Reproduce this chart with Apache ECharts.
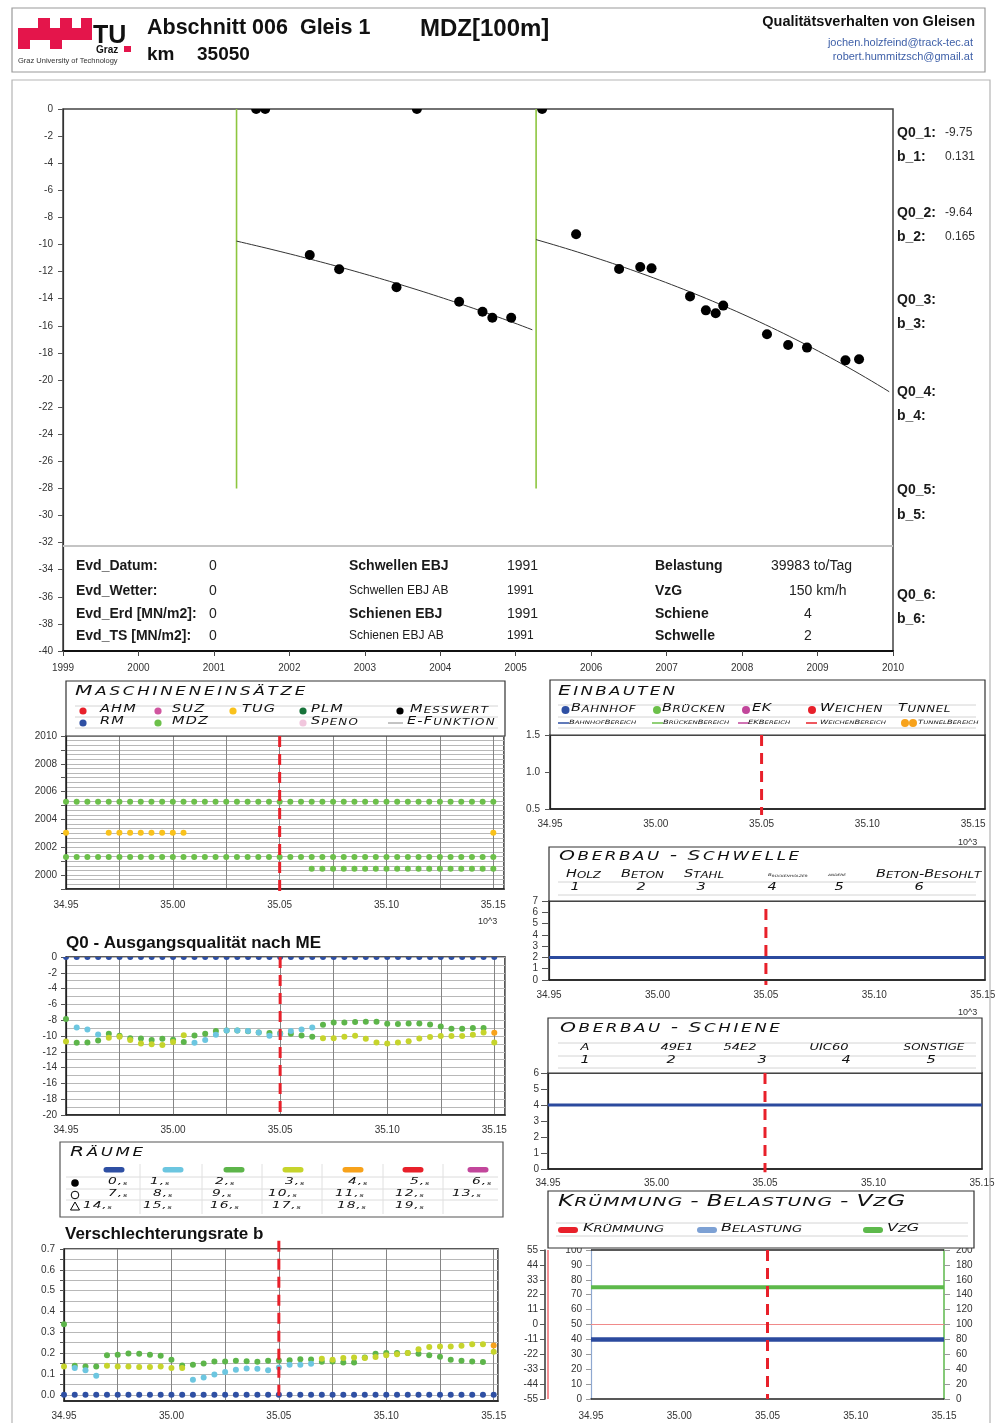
<!DOCTYPE html>
<html>
<head>
<meta charset="utf-8">
<title>Abschnitt 006 Gleis 1 – MDZ[100m]</title>
<script src="https://cdn.jsdelivr.net/npm/echarts@6/dist/echarts.min.js"></script>
<style>
  html, body { margin: 0; padding: 0; background: #fff; }
  #c { width: 995px; height: 1423px; }
</style>
</head>
<body>
<div id="c"></div>
<script>
// ---------------------------------------------------------------------------
// Data
// ---------------------------------------------------------------------------

// Track position (km x 10^3), 5 m spacing
const KM = [34.950, 34.955, 34.960, 34.965, 34.970, 34.975, 34.980, 34.985, 34.990, 34.995,
            35.000, 35.005, 35.010, 35.015, 35.020, 35.025, 35.030, 35.035, 35.040, 35.045,
            35.050, 35.055, 35.060, 35.065, 35.070, 35.075, 35.080, 35.085, 35.090, 35.095,
            35.100, 35.105, 35.110, 35.115, 35.120, 35.125, 35.130, 35.135, 35.140, 35.145,
            35.150];

// Quality history at km 35050: measured values [year, quality]
const MEAS = [[2001.56, 0], [2001.68, 0], [2003.69, 0], [2005.35, 0],
              [2002.27, -10.77], [2002.66, -11.83], [2003.42, -13.16], [2004.25, -14.22],
              [2004.56, -14.96], [2004.69, -15.40], [2004.94, -15.40],
              [2005.80, -9.25], [2006.37, -11.81], [2006.65, -11.66], [2006.80, -11.76],
              [2007.31, -13.83], [2007.52, -14.86], [2007.65, -15.08], [2007.75, -14.51],
              [2008.33, -16.63], [2008.61, -17.42], [2008.86, -17.61], [2009.37, -18.55],
              [2009.55, -18.47]];

// MDZ tamping dates at km 35050 and the fitted e-function per interval
const MDZ_DATES = [2001.30, 2005.27];
const FIT_END = [2005.22, 2009.95];
const Q0_VALUES = [-9.75, -9.64, null, null, null, null];
const B_VALUES = [0.131, 0.165, null, null, null, null];

// Info table
const EVD_LABELS = ['Evd_Datum:', 'Evd_Wetter:', 'Evd_Erd [MN/m2]:', 'Evd_TS [MN/m2]:'];
const EVD_VALUES = [0, 0, 0, 0];
const EBJ_LABELS = ['Schwellen EBJ', 'Schwellen EBJ AB', 'Schienen EBJ', 'Schienen EBJ AB'];
const EBJ_VALUES = [1991, 1991, 1991, 1991];
const BELASTUNG = 39983;   // to/Tag
const VZG = 150;           // km/h
const SCHIENE = 4;
const SCHWELLE = 2;
const KRUEMMUNG = 0;

// Machine operations (year of operation) per position
const ME_MDZ_A_DATE = 2005.27;
const ME_MDZ_A_KM = KM.slice();
const ME_MDZ_B_DATE = 2001.30;
const ME_MDZ_B_KM = KM.slice();
const ME_MDZ_C_DATE = 2000.46;
const ME_MDZ_C_KM = KM.filter(k => k > 35.0645);
const ME_TUG_DATE = 2003.04;
const ME_TUG_KM = [34.950, 34.970, 34.975, 34.980, 34.985, 34.990, 34.995, 35.000, 35.005, 35.150];

// Q0 (initial quality after machine operation) per interval ("Raum")
const Q0_R0 = KM.map(() => 0);
const Q0_R1 = [null, -8.91, -9.17, -9.80, null, null, null, null, null, null,
               null, null, -10.86, -10.52, -9.84, -9.29, -9.29, -9.38, -9.55, -9.97,
               -9.75, -9.38, -9.17, -8.91, null, null, null, null, null, null,
               null, null, null, null, null, null, null, null, null, null, null];
const Q0_R2 = [-7.86, -10.86, -10.82, -10.56, -9.72, -9.97, -10.27, -10.31, -10.52, -10.35,
               -10.48, -10.77, -9.93, -9.72, -9.38, -9.30, -9.30, -9.40, -9.55, -9.63,
               -9.64, -9.72, -9.93, -10.10, -8.58, -8.28, -8.28, -8.24, -8.20, -8.20,
               -8.45, -8.49, -8.41, -8.41, -8.53, -8.79, -9.08, -9.08, -9.00, -9.00, null];
const Q0_R3 = [-10.69, null, null, null, -10.22, -10.10, -10.52, -10.94, -11.03, -11.15,
               -10.77, -9.89, null, null, null, null, null, null, null, null,
               null, null, null, null, -10.27, -10.27, -10.10, -9.97, -10.35, -10.82,
               -10.94, -10.82, -10.65, -10.31, -10.14, -10.01, -10.01, -10.01, -9.84, -9.55, -10.82];
const Q0_R4 = [null, null, null, null, null, null, null, null, null, null,
               null, null, null, null, null, null, null, null, null, null,
               null, null, null, null, null, null, null, null, null, null,
               null, null, null, null, null, null, null, null, null, null, -9.59];

// Deterioration rate b per interval
const B_R0 = KM.map(() => 0);
const B_R1 = [null, 0.128, 0.118, 0.091, null, null, null, null, null, null,
              null, null, 0.072, 0.083, 0.097, 0.109, 0.120, 0.126, 0.125, 0.118,
              0.131, 0.144, 0.144, 0.149, null, null, null, null, null, null,
              null, null, null, null, null, null, null, null, null, null, null];
const B_R2 = [0.339, 0.139, 0.136, 0.136, 0.190, 0.192, 0.198, 0.197, 0.192, 0.187,
              0.168, 0.141, 0.144, 0.150, 0.160, 0.160, 0.163, 0.161, 0.158, 0.163,
              0.165, 0.166, 0.171, 0.169, 0.158, 0.160, 0.155, 0.155, 0.179, 0.197,
              0.200, 0.200, 0.201, 0.197, 0.190, 0.182, 0.168, 0.163, 0.160, 0.157, null];
const B_R3 = [0.136, null, null, null, 0.139, 0.136, 0.136, 0.133, 0.133, 0.136,
              0.129, 0.129, null, null, null, null, null, null, null, null,
              null, null, null, null, 0.173, 0.168, 0.176, 0.179, 0.176, 0.181,
              0.190, 0.195, 0.200, 0.219, 0.229, 0.232, 0.232, 0.235, 0.243, 0.243, 0.206];
const B_R4 = [null, null, null, null, null, null, null, null, null, null,
              null, null, null, null, null, null, null, null, null, null,
              null, null, null, null, null, null, null, null, null, null,
              null, null, null, null, null, null, null, null, null, null, 0.237];

// Tick labels
const B_GRID = [0, 0.05, 0.1, 0.15, 0.2, 0.25, 0.3, 0.35, 0.4, 0.45, 0.5, 0.55, 0.6, 0.65, 0.7];
const B_TICKS = [0, 0.1, 0.2, 0.3, 0.4, 0.5, 0.6, 0.7];

const CURRENT_KM = 35.05;

// ---------------------------------------------------------------------------
// Styling
// ---------------------------------------------------------------------------
const SANS = "'Liberation Sans', Arial, Helvetica, sans-serif";
const DEJA = "'DejaVu Sans', Verdana, sans-serif";
const RAUM_COLORS = ['#2E4FA3', '#6CC6E0', '#5DB54A', '#C6D42C', '#F7A21B', '#E8202A', '#C2469B'];
const RED = '#E8202A';
const GRID_V = '#858585';
const GRID_H = '#b8b8b8';
// lower half of a disc: used for marks sitting on the upper plot frame
const HALF_DISC = 'path://M0,0 A10,10 0 0 0 20,0 Z';
const SX = 1.45;   // horizontal stretch of the extended italic caption lettering

const G = [];   // graphic elements (frames, titles, legends, texts)

function T(text, x, y, o) {
  o = o || {};
  G.push({
    type: 'text', x: x, y: y, z: 30, silent: true,
    style: {
      text: String(text), fill: o.color || '#1a1a1a',
      fontSize: o.size || 12, fontFamily: o.family || SANS,
      fontWeight: o.weight || 'normal', fontStyle: o.fstyle || 'normal',
      align: o.align || 'left', verticalAlign: 'middle',
      textAlign: o.align || 'left', textVerticalAlign: 'middle'
    }
  });
}

// small-capital style: capitals large, lowercase letters as smaller capitals
function capsRich(str, allSmall) {
  let out = '';
  for (const ch of str) {
    if (ch === ' ') { out += '{s| }'; continue; }
    const up = ch.toUpperCase();
    const small = allSmall || ch !== up;
    out += (small ? '{s|' : '{u|') + up + '}';
  }
  return out;
}

function C(str, x, y, big, small, gap, o) {
  o = o || {};
  const color = o.color || '#111';
  const base = { fontFamily: DEJA, fontStyle: 'italic', fontWeight: o.weight || 'normal', fill: color, verticalAlign: 'bottom' };
  const tiny = o.tiny || small * 0.6;
  const rich = {
    u: Object.assign({ fontSize: big, lineHeight: big * 0.7, padding: [0, gap, 0, 0] }, base),
    s: Object.assign({ fontSize: small, lineHeight: small * 0.7, padding: [0, gap, 0, 0] }, base),
    t: Object.assign({ fontSize: tiny, lineHeight: tiny * 0.7, padding: [0, gap, 0, 0] }, base)
  };
  G.push({
    type: 'text', x: x, y: y, scaleX: o.sx || SX, z: 30, silent: true,
    style: {
      text: o.raw ? str : capsRich(str, o.allSmall), rich: rich, fill: color,
      fontSize: big, fontFamily: DEJA, fontStyle: 'italic',
      align: o.align || 'left', verticalAlign: 'middle',
      textAlign: o.align || 'left', textVerticalAlign: 'middle'
    }
  });
}

function R(x, y, w, h, o) {
  o = o || {};
  G.push({ type: 'rect', z: o.z || 1, silent: true, shape: { x: x, y: y, width: w, height: h, r: o.r || 0 },
           style: { fill: o.fill || 'none', stroke: o.stroke || null, lineWidth: o.lw || 1 } });
}
function L(x1, y1, x2, y2, color, lw, z) {
  G.push({ type: 'line', z: z || 2, silent: true, shape: { x1: x1, y1: y1, x2: x2, y2: y2 },
           style: { stroke: color, lineWidth: lw || 1 } });
}
function DOT(cx, cy, r, color) {
  G.push({ type: 'circle', z: 30, silent: true, shape: { cx: cx, cy: cy, r: r }, style: { fill: color } });
}

// ---------------------------------------------------------------------------
// Header
// ---------------------------------------------------------------------------
R(12, 8, 973, 64, { stroke: '#9a9a9a', lw: 1.2 });
// TU Graz logo
const LOGO_RED = '#E4154B';
R(18, 28, 74, 12, { fill: LOGO_RED });
R(38, 18, 12, 10, { fill: LOGO_RED });
R(60, 18, 12, 10, { fill: LOGO_RED });
R(81, 18, 11, 10, { fill: LOGO_RED });
R(18, 40, 12, 9, { fill: LOGO_RED });
R(50, 40, 12, 9, { fill: LOGO_RED });
T('TU', 93, 36, { size: 25, weight: 'bold', color: '#111' });
T('Graz', 96, 50, { size: 10, weight: 'bold', color: '#111' });
R(124, 46, 7, 6, { fill: LOGO_RED });
T('Graz University of Technology', 18, 61, { size: 7.5, color: '#333' });

T('Abschnitt 006  Gleis 1', 147, 28, { size: 21.5, weight: 'bold', color: '#111' });
T('MDZ[100m]', 420, 29, { size: 24, weight: 'bold', color: '#111' });
T('km', 147, 55, { size: 19, weight: 'bold', color: '#111' });
T('35050', 197, 55, { size: 19, weight: 'bold', color: '#111' });
T('Qualitätsverhalten von Gleisen', 975, 22, { size: 14.5, weight: 'bold', align: 'right', color: '#111' });
T('jochen.holzfeind@track-tec.at', 973, 43, { size: 11, align: 'right', color: '#3d5fa8' });
T('robert.hummitzsch@gmail.at', 973, 57, { size: 11, align: 'right', color: '#3d5fa8' });

// page frame
R(12, 80, 978, 1360, { stroke: '#b5b5b5', lw: 1.2 });

// ---------------------------------------------------------------------------
// Main chart texts
// ---------------------------------------------------------------------------
const PARAM_ROWS = [[133, 157], [213, 237], [300, 324], [392, 416], [490, 515], [595, 619]];
PARAM_ROWS.forEach((r, i) => {
  T('Q0_' + (i + 1) + ':', 897, r[0], { size: 14, weight: 'bold' });
  T('b_' + (i + 1) + ':', 897, r[1], { size: 14, weight: 'bold' });
  if (Q0_VALUES[i] !== null) T(Q0_VALUES[i].toFixed(2), 945, r[0], { size: 12, color: '#333' });
  if (B_VALUES[i] !== null) T(B_VALUES[i].toFixed(3), 945, r[1], { size: 12, color: '#333' });
});

L(63, 546, 893, 546, '#c4c4c4', 2, 3);
const TABLE_Y = [566, 591, 614, 636];
TABLE_Y.forEach((y, i) => {
  T(EVD_LABELS[i], 76, y, { size: 14, weight: 'bold' });
  T(EVD_VALUES[i], 209, y, { size: 14, color: '#222' });
  const ab = i % 2 === 1;
  T(EBJ_LABELS[i], 349, y, { size: ab ? 12 : 14, weight: ab ? 'normal' : 'bold' });
  T(EBJ_VALUES[i], 507, y, { size: ab ? 12 : 14, color: '#222' });
});
T('Belastung', 655, 566, { size: 14, weight: 'bold' });
T(BELASTUNG + ' to/Tag', 771, 566, { size: 14, color: '#222' });
T('VzG', 655, 591, { size: 14, weight: 'bold' });
T(VZG + ' km/h', 789, 591, { size: 14, color: '#222' });
T('Schiene', 655, 614, { size: 14, weight: 'bold' });
T(SCHIENE, 808, 614, { size: 14, align: 'center', color: '#222' });
T('Schwelle', 655, 636, { size: 14, weight: 'bold' });
T(SCHWELLE, 808, 636, { size: 14, align: 'center', color: '#222' });

// ---------------------------------------------------------------------------
// Maschineneinsätze legend
// ---------------------------------------------------------------------------
R(66, 681, 439, 55, { stroke: '#333', lw: 1.2, fill: '#fff' });
[706, 717, 728].forEach(y => L(75, y, 498, y, '#d4d4d4', 1));
C('Maschineneinsätze', 75, 693, 14, 11.5, 1.9);
const ME_LEG = [
  ['AHM', 83, 711, '#E8202A', 100], ['SUZ', 158, 711, '#D0559F', 172], ['TUG', 233, 711, '#F9C21C', 242],
  ['PLM', 303, 711, '#17733A', 311], ['Messwert', 400, 711, '#000', 410],
  ['RM', 83, 723, '#2E4FA3', 100], ['MDZ', 158, 723, '#6CC04A', 172], ['Speno', 303, 723, '#F1C6DD', 311]
];
ME_LEG.forEach(e => { DOT(e[1], e[2], 3.6, e[3]); C(e[0], e[4], e[2], 10, 8.2, 0.8); });
L(388, 723, 403, 723, '#888', 1, 30);
C('E-Funktion', 407, 723, 10, 8.2, 0.8);
T('10^3', 478, 922, { size: 9, color: '#333' });

// Q0 / b panel titles
T('Q0 - Ausgangsqualität nach ME', 66, 943, { size: 17, weight: 'bold', color: '#111' });
T('Verschlechterungsrate b', 65, 1234, { size: 17, weight: 'bold', color: '#111' });

// ---------------------------------------------------------------------------
// Räume legend
// ---------------------------------------------------------------------------
R(60, 1142, 443, 75, { stroke: '#555', lw: 1.2, fill: '#fff' });
C('Räume', 70, 1154, 14, 11.5, 1.8);
[1177, 1189, 1200].forEach(y => L(66, y, 498, y, '#dcdcdc', 1));
[140, 202, 262, 322, 383, 443].forEach(x => L(x, 1164, x, 1214, '#e0e0e0', 1));
const PILL_X = [114, 173, 234, 293, 353, 413, 478];
PILL_X.forEach((x, i) => R(x - 10.5, 1167, 21, 5.5, { fill: RAUM_COLORS[i], r: 2.75, z: 5 }));
DOT(75, 1183, 3.8, '#000');
G.push({ type: 'circle', z: 30, silent: true, shape: { cx: 75, cy: 1195, r: 3.8 }, style: { fill: 'none', stroke: '#000', lineWidth: 1 } });
G.push({ type: 'polygon', z: 30, silent: true, shape: { points: [[75, 1202], [70.5, 1210], [79.5, 1210]] }, style: { fill: 'none', stroke: '#000', lineWidth: 1 } });
const RAUM_LABEL_POS = [
  [108, 1183], [150, 1183], [215, 1183], [285, 1183], [348, 1183], [410, 1183], [472, 1183],
  [108, 1195], [153, 1195], [212, 1195], [268, 1195], [335, 1195], [395, 1195], [452, 1195],
  [83, 1207], [143, 1207], [210, 1207], [272, 1207], [337, 1207], [395, 1207]
];
RAUM_LABEL_POS.forEach((p, n) => {
  const digits = String(n).split('').map(d => '{u|' + d + '}').join('');
  C(digits + '{u|,}{t|s}', p[0], p[1], 9.5, 7.5, 0.6, { raw: true, tiny: 5.5 });
});

// ---------------------------------------------------------------------------
// Right column legends
// ---------------------------------------------------------------------------
// Einbauten
R(550, 680, 435, 55, { stroke: '#333', lw: 1.2, fill: '#fff' });
[705, 717, 728].forEach(y => L(558, y, 976, y, '#d4d4d4', 1));
C('Einbauten', 558, 693, 14, 11.5, 1.6);
[['Bahnhof', 565.5, '#2E4FA3', 571], ['Brücken', 657, '#6CC04A', 662], ['EK', 746, '#C2469B', 752], ['Weichen', 812, '#E8202A', 820]]
  .forEach(e => { DOT(e[1], 710, 4, e[2]); C(e[0], e[3], 710, 10, 8.2, 0.4); });
C('Tunnel', 898, 710, 10, 8.2, 0.4);
[['BahnhofBereich', 558, 569, '#2E4FA3'], ['BrückenBereich', 652, 663, '#6CC04A'], ['EKBereich', 738, 748, '#C2469B'], ['WeichenBereich', 806, 820, '#E8202A']]
  .forEach(e => { L(e[1], 723, e[1] + 11, 723, e[3], 1.5, 30); C(e[0], e[2], 723.5, 5.8, 4.8, 0); });
DOT(905, 723, 4, '#F7A21B');
DOT(913, 723, 4, '#F7A21B');
C('TunnelBereich', 918, 723.5, 5.8, 4.8, 0);
T('10^3', 958, 843, { size: 9, color: '#333' });

// Oberbau - Schwelle
R(549, 847, 436, 54, { stroke: '#333', lw: 1.2, fill: '#fff' });
[882, 895].forEach(y => L(558, y, 976, y, '#d4d4d4', 1));
C('Oberbau - Schwelle', 559, 858, 14, 11.5, 1.8);
C('Holz', 566, 876, 10, 8.2, 0);
C('Beton', 621, 876, 10, 8.2, 0);
C('Stahl', 684, 876, 10, 8.2, 0);
C('Brückenhölzer', 768, 876, 3.8, 3.0, 0);
C('andere', 828, 876, 3.8, 3.0, 0, { allSmall: true });
C('Beton-Besohlt', 876, 876, 10, 8.2, 0);
[[575, '1'], [641, '2'], [701, '3'], [772, '4'], [839, '5'], [919, '6']].forEach(e => C(e[1], e[0], 889, 10, 8.2, 0, { align: 'center' }));
T('10^3', 958, 1013, { size: 9, color: '#333' });

// Oberbau - Schiene
R(548, 1018, 434, 55, { stroke: '#333', lw: 1.2, fill: '#fff' });
[1043, 1056, 1068].forEach(y => L(558, y, 976, y, '#d4d4d4', 1));
C('Oberbau - Schiene', 560, 1030, 14, 11.5, 1.8);
[[585, 'A'], [677, '49E1'], [740, '54E2'], [829, 'UIC60']].forEach(e => C(e[1], e[0], 1049, 9, 7.5, 0, { align: 'center' }));
C('sonstige', 934, 1049, 9, 8.2, 0, { align: 'center', allSmall: true });
[[585, '1'], [671, '2'], [762, '3'], [846, '4'], [931, '5']].forEach(e => C(e[1], e[0], 1062, 10, 8.2, 0, { align: 'center' }));

// Krümmung - Belastung - VzG
R(548, 1191, 426, 57, { stroke: '#333', lw: 1.2, fill: '#fff', z: 6 });
[1223, 1236].forEach(y => L(556, y, 968, y, '#d4d4d4', 1, 7));
C('Krümmung - Belastung - VzG', 558, 1204, 16, 13, 0.7);
R(558, 1227, 20, 6, { fill: '#E8202A', r: 3, z: 8 });
C('Krümmung', 583, 1230, 11, 9, 0);
R(697, 1227, 20, 6, { fill: '#7DA1D4', r: 3, z: 8 });
C('Belastung', 721, 1230, 11, 9, 0);
R(863, 1227, 20, 6, { fill: '#5DB94B', r: 3, z: 8 });
C('VzG', 887, 1230, 11, 9, 0);
L(548, 1250, 548, 1399, '#E8202A', 1, 5);
L(591, 1250, 944, 1250, '#222', 1.5, 5);

// ---------------------------------------------------------------------------
// Axes helpers
// ---------------------------------------------------------------------------
const LBL = { fontSize: 10, color: '#333', fontFamily: SANS };

function kmAxis(gi, max, margin, gridLines) {
  return {
    gridIndex: gi, type: 'value', min: 34.95, max: max, interval: 0.025,
    axisLine: { show: true, onZero: false, lineStyle: { color: '#222', width: 1.5 } },
    axisTick: { show: false },
    axisLabel: Object.assign({
      show: true, margin: margin, showMinLabel: true, showMaxLabel: true,
      formatter: v => (Math.abs(v * 20 - Math.round(v * 20)) < 1e-6 ? v.toFixed(2) : '')
    }, LBL),
    splitLine: { show: !!gridLines, lineStyle: { color: GRID_V, width: 1 } }
  };
}

function yAx(gi, min, max, interval, o) {
  o = o || {};
  return Object.assign({
    gridIndex: gi, type: 'value', min: min, max: max, interval: interval,
    axisLine: { show: true, onZero: false, lineStyle: { color: '#222', width: 1.2 } },
    axisTick: { show: true, length: o.tick || 5, lineStyle: { color: '#555' } },
    axisLabel: Object.assign({ margin: o.margin || 9, showMinLabel: true, showMaxLabel: true }, LBL,
                             o.formatter ? { formatter: o.formatter } : {}),
    splitLine: { show: !!o.split, lineStyle: { color: GRID_H, width: 1 } }
  }, o.extra || {});
}

// ---------------------------------------------------------------------------
// Series helpers
// ---------------------------------------------------------------------------
const series = [];
function S(o) { series.push(Object.assign({ silent: true, animation: false }, o)); }

function stationSeries(xi, yi, arr, color, size, edge) {
  const data = [];
  KM.forEach((k, i) => { if (arr[i] !== null) data.push([k, arr[i]]); });
  const o = { type: 'scatter', xAxisIndex: xi, yAxisIndex: yi, data: data, symbolSize: size || 6,
              itemStyle: { color: color, opacity: 1 }, clip: true, z: 3 };
  if (edge) { o.symbol = HALF_DISC; o.symbolSize = [size, size / 2]; o.symbolOffset = [0, size / 4]; }
  S(o);
}
function kmRowSeries(xi, yi, kms, value, color) {
  S({ type: 'scatter', xAxisIndex: xi, yAxisIndex: yi, data: kms.map(k => [k, value]),
      symbolSize: 6, itemStyle: { color: color, opacity: 1 }, clip: true, z: 3 });
}
function levelLine(xi, yi, x0, x1, value, color, width, z) {
  S({ type: 'line', xAxisIndex: xi, yAxisIndex: yi, data: [[x0, value], [x1, value]], symbol: 'none',
      lineStyle: { color: color, width: width }, z: z || 3 });
}
function currentKm(xi, yi, yTop, yBottom) {
  S({ type: 'line', xAxisIndex: xi, yAxisIndex: yi, data: [[CURRENT_KM, yTop], [CURRENT_KM, yBottom]],
      symbol: 'none', clip: false, lineStyle: { color: RED, width: 3, type: [11, 7] }, z: 8 });
}

// Main chart: MDZ dates, e-function fits, measured values
MDZ_DATES.forEach(d => S({ type: 'line', xAxisIndex: 0, yAxisIndex: 0, data: [[d, 0], [d, -28]], symbol: 'none',
                             lineStyle: { color: '#8DC63F', width: 1.6 }, z: 2 }));
MDZ_DATES.forEach((t0, i) => {
  const q0 = Q0_VALUES[i], b = B_VALUES[i], t1 = FIT_END[i];
  const pts = [];
  for (let k = 0; k <= 60; k++) {
    const t = t0 + (t1 - t0) * k / 60;
    pts.push([t, q0 * Math.exp(b * (t - t0))]);
  }
  S({ type: 'line', xAxisIndex: 0, yAxisIndex: 0, data: pts, symbol: 'none', smooth: false,
      lineStyle: { color: '#333', width: 1 }, z: 3 });
});
// values on the upper frame (0) are cut by the plot edge
S({ type: 'scatter', xAxisIndex: 0, yAxisIndex: 0, data: MEAS.filter(p => p[1] < 0), symbolSize: 10,
    itemStyle: { color: '#000', opacity: 1 }, clip: true, z: 5 });
S({ type: 'scatter', xAxisIndex: 0, yAxisIndex: 0, data: MEAS.filter(p => p[1] >= 0), symbol: HALF_DISC,
    symbolSize: [10, 5], symbolOffset: [0, 2.5], itemStyle: { color: '#000', opacity: 1 }, clip: true, z: 5 });

// Maschineneinsätze
kmRowSeries(1, 1, ME_MDZ_A_KM, ME_MDZ_A_DATE, '#6CC04A');
kmRowSeries(1, 1, ME_MDZ_B_KM, ME_MDZ_B_DATE, '#6CC04A');
kmRowSeries(1, 1, ME_MDZ_C_KM, ME_MDZ_C_DATE, '#6CC04A');
kmRowSeries(1, 1, ME_TUG_KM, ME_TUG_DATE, '#F9C21C');
currentKm(1, 1, 2010, 1998.4);

// Q0
stationSeries(2, 2, Q0_R0, RAUM_COLORS[0], 6, true);
stationSeries(2, 2, Q0_R2, RAUM_COLORS[2], 6);
stationSeries(2, 2, Q0_R3, RAUM_COLORS[3], 6);
stationSeries(2, 2, Q0_R4, RAUM_COLORS[4], 6);
stationSeries(2, 2, Q0_R1, RAUM_COLORS[1], 6);
currentKm(2, 2, 0, -20.4);

// b
stationSeries(3, 3, B_R0, RAUM_COLORS[0], 6);
stationSeries(3, 3, B_R2, RAUM_COLORS[2], 6);
stationSeries(3, 3, B_R3, RAUM_COLORS[3], 6);
stationSeries(3, 3, B_R4, RAUM_COLORS[4], 6);
stationSeries(3, 3, B_R1, RAUM_COLORS[1], 6);
currentKm(3, 3, 0.74, -0.03);

// Einbauten
currentKm(4, 4, 1.5, 0.42);

// Oberbau - Schwelle / Schiene
levelLine(5, 5, 34.95, 35.151, SCHWELLE, '#2B4A9E', 3);
currentKm(5, 5, 6.3, -0.45);
levelLine(6, 6, 34.95, 35.15, SCHIENE, '#2B4A9E', 3);
currentKm(6, 6, 6, -0.2);

// Krümmung - Belastung - VzG
levelLine(7, 9, 34.95, 35.15, VZG, '#5DB94B', 4);
levelLine(7, 7, 34.95, 35.15, KRUEMMUNG, '#F08A8A', 1);
levelLine(7, 8, 34.95, 35.15, BELASTUNG / 1000, '#2B4A9E', 4.5);
currentKm(7, 8, 100, 0);

// ---------------------------------------------------------------------------
// Option
// ---------------------------------------------------------------------------
const gridBase = { containLabel: false, outerBoundsMode: 'none' };
const option = {
  animation: false,
  backgroundColor: '#fff',
  grid: [
    Object.assign({ left: 63, top: 109, width: 830, height: 542, show: true, borderColor: '#444', borderWidth: 1.5 }, gridBase),
    Object.assign({ left: 66, top: 736, width: 438, height: 153, show: true, borderColor: '#222', borderWidth: 1.5 }, gridBase),
    Object.assign({ left: 66, top: 957, width: 439, height: 158, show: true, borderColor: '#222', borderWidth: 1.5 }, gridBase),
    Object.assign({ left: 64, top: 1249, width: 434, height: 152, show: true, borderColor: '#222', borderWidth: 1.5 }, gridBase),
    Object.assign({ left: 550, top: 735, width: 435, height: 74, show: true, borderColor: '#222', borderWidth: 1.5 }, gridBase),
    Object.assign({ left: 549, top: 901, width: 436, height: 79, show: true, borderColor: '#222', borderWidth: 1.5 }, gridBase),
    Object.assign({ left: 548, top: 1073, width: 434, height: 96, show: true, borderColor: '#222', borderWidth: 1.5 }, gridBase),
    Object.assign({ left: 591, top: 1250, width: 353, height: 149, show: false }, gridBase)
  ],
  xAxis: [
    {
      gridIndex: 0, type: 'value', min: 1999, max: 2010, interval: 1,
      axisLine: { show: true, onZero: false, lineStyle: { color: '#111', width: 2 } },
      axisTick: { show: true, length: 5, lineStyle: { color: '#444' } },
      axisLabel: Object.assign({ margin: 12, showMinLabel: true, showMaxLabel: true, formatter: v => String(v) }, LBL),
      splitLine: { show: false }
    },
    kmAxis(1, 35.155, 11, true),
    kmAxis(2, 35.155, 10, true),
    kmAxis(3, 35.152, 10, true),
    kmAxis(4, 35.1556, 10, false),
    kmAxis(5, 35.151, 10, false),
    kmAxis(6, 35.15, 9, false),
    kmAxis(7, 35.15, 12, false)
  ],
  yAxis: [
    yAx(0, -40, 0, 2, { margin: 10, extra: { axisLine: { show: true, onZero: false, lineStyle: { color: '#333', width: 1.2 } } } }),
    yAx(1, 1999, 2010, 1, {
      margin: 9, split: true,
      formatter: v => (Math.round(v) % 2 === 0 ? String(Math.round(v)) : ''),
      extra: { minorTick: { show: false, splitNumber: 3 }, minorSplitLine: { show: true, lineStyle: { color: GRID_H, width: 1 } } }
    }),
    yAx(2, -20, 0, 2, {
      margin: 9, split: true,
      extra: { minorTick: { show: false, splitNumber: 2 }, minorSplitLine: { show: true, lineStyle: { color: GRID_H, width: 1 } } }
    }),
    {
      gridIndex: 3, type: 'value', min: -0.03, max: 0.7,
      axisLine: { show: true, onZero: false, lineStyle: { color: '#222', width: 1.2 } },
      axisTick: { show: true, length: 4, customValues: B_GRID, lineStyle: { color: '#555' } },
      axisLabel: Object.assign({ margin: 9, customValues: B_TICKS, formatter: v => v.toFixed(1) }, LBL),
      splitLine: { show: true, lineStyle: { color: GRID_H, width: 1 } }
    },
    yAx(4, 0.5, 1.5, 0.5, { margin: 10, formatter: v => v.toFixed(1) }),
    yAx(5, 0, 7, 1, { margin: 11, tick: 7 }),
    yAx(6, 0, 6, 1, { margin: 9, tick: 7 }),
    {
      gridIndex: 7, type: 'value', position: 'left', offset: 46, min: -55, max: 55, interval: 11,
      axisLine: { show: true, onZero: false, lineStyle: { color: '#333', width: 1.5 } },
      axisTick: { show: true, length: 5, lineStyle: { color: '#555' } },
      axisLabel: Object.assign({ margin: 7, showMinLabel: true, showMaxLabel: true }, LBL),
      splitLine: { show: false }
    },
    {
      gridIndex: 7, type: 'value', position: 'left', offset: 0, min: 0, max: 100, interval: 10,
      axisLine: { show: true, onZero: false, lineStyle: { color: '#8FA8D0', width: 1.2 } },
      axisTick: { show: true, length: 5, lineStyle: { color: '#999' } },
      axisLabel: Object.assign({ margin: 9, showMinLabel: true, showMaxLabel: true }, LBL),
      splitLine: { show: false }
    },
    {
      gridIndex: 7, type: 'value', position: 'right', offset: 0, min: 0, max: 200, interval: 20,
      axisLine: { show: true, onZero: false, lineStyle: { color: '#5DB94B', width: 1.5 } },
      axisTick: { show: true, length: 6, lineStyle: { color: '#999' } },
      axisLabel: Object.assign({ margin: 12, showMinLabel: true, showMaxLabel: true }, LBL),
      splitLine: { show: false }
    }
  ],
  series: series,
  graphic: { elements: G }
};

const chart = echarts.init(document.getElementById('c'), null, { renderer: 'canvas', width: 995, height: 1423 });
chart.setOption(option);
</script>
</body>
</html>
